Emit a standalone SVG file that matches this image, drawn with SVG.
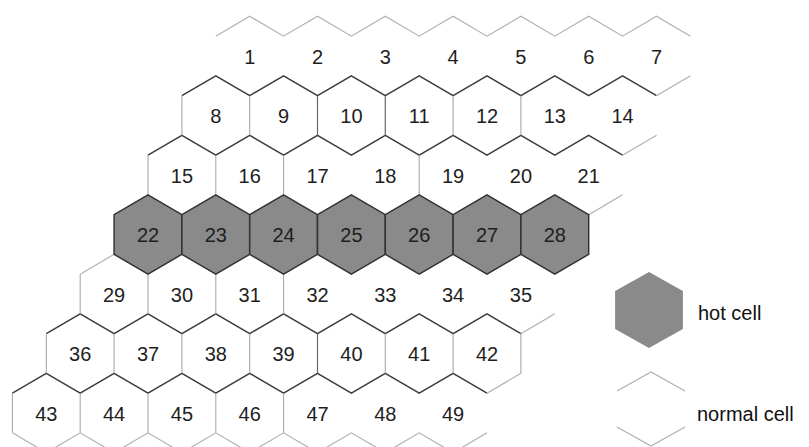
<svg xmlns="http://www.w3.org/2000/svg" xmlns:xlink="http://www.w3.org/1999/xlink" width="809" height="447" viewBox="0 0 809 447">
<style>
  .zz { fill: none; stroke: #3c3c3c; stroke-width: 1.5; stroke-linejoin: miter; }
  .faint { fill: none; stroke: #b0b0b0; stroke-width: 1.2; }
  .vt { stroke: #a8a8a8; stroke-width: 1.1; }
  .vd { stroke: #666; stroke-width: 1.2; }
  .hot { fill: #8a8a8a; stroke: #333; stroke-width: 1.5; }
  .lbl { font-family: "Liberation Sans", Arial, sans-serif; font-size: 20px; fill: #1e1e1e; text-anchor: middle; }
  .leg { font-family: "Liberation Sans", Arial, sans-serif; font-size: 20px; fill: #111; }
</style>
<defs>
  <path id="hex" d="M0,-39.7 L33.9,-19.85 L33.9,19.85 L0,39.7 L-33.9,19.85 L-33.9,-19.85 Z"/>
  <path id="zzTop" d="M0,0 l33.9,-19.85 l33.9,19.85 l33.9,-19.85 l33.9,19.85 l33.9,-19.85 l33.9,19.85 l33.9,-19.85 l33.9,19.85 l33.9,-19.85 l33.9,19.85 l33.9,-19.85 l33.9,19.85 l33.9,-19.85 l33.9,19.85"/>
  <path id="zzBot" d="M0,0 l33.9,19.85 l33.9,-19.85 l33.9,19.85 l33.9,-19.85 l33.9,19.85 l33.9,-19.85 l33.9,19.85 l33.9,-19.85 l33.9,19.85 l33.9,-19.85 l33.9,19.85 l33.9,-19.85 l33.9,19.85 l33.9,-19.85"/>
</defs>
<rect width="809" height="447" fill="#fff"/>

<g id="grid">
  <use xlink:href="#zzTop" href="#zzTop" x="215.8" y="36.15" class="faint"/>
  <use xlink:href="#zzTop" href="#zzTop" x="181.9" y="95.65" class="zz"/>
  <line x1="656.5" y1="95.65" x2="690.4" y2="75.8" class="faint"/>
  <use xlink:href="#zzTop" href="#zzTop" x="148" y="155.15" class="zz"/>
  <line x1="622.6" y1="155.15" x2="656.5" y2="135.3" class="faint"/>
  <line x1="588.7" y1="214.65" x2="622.6" y2="194.8" class="faint"/>
  <line x1="80.2" y1="274.15" x2="114.1" y2="254.3" class="faint"/>
  <use xlink:href="#zzTop" href="#zzTop" x="46.3" y="333.65" class="zz"/>
  <line x1="520.9" y1="333.65" x2="554.8" y2="313.8" class="faint"/>
  <use xlink:href="#zzTop" href="#zzTop" x="12.4" y="393.15" class="zz"/>
  <line x1="487" y1="393.15" x2="520.9" y2="373.3" class="faint"/>
  <use xlink:href="#zzBot" href="#zzBot" x="12.4" y="432.85" class="faint"/>
  <line x1="181.9" y1="95.65" x2="181.9" y2="135.35" class="vt"/>
  <line x1="249.7" y1="95.65" x2="249.7" y2="135.35" class="vt"/>
  <line x1="317.5" y1="95.65" x2="317.5" y2="135.35" class="vd"/>
  <line x1="385.3" y1="95.65" x2="385.3" y2="135.35" class="vd"/>
  <line x1="453.1" y1="95.65" x2="453.1" y2="135.35" class="vt"/>
  <line x1="520.9" y1="95.65" x2="520.9" y2="135.35" class="vt"/>
  <line x1="148" y1="155.15" x2="148" y2="194.85" class="vt"/>
  <line x1="215.8" y1="155.15" x2="215.8" y2="194.85" class="vt"/>
  <line x1="283.6" y1="155.15" x2="283.6" y2="194.85" class="vt"/>
  <line x1="419.2" y1="155.15" x2="419.2" y2="194.85" class="vt"/>
  <line x1="80.2" y1="274.15" x2="80.2" y2="313.85" class="vt"/>
  <line x1="148" y1="274.15" x2="148" y2="313.85" class="vt"/>
  <line x1="215.8" y1="274.15" x2="215.8" y2="313.85" class="vt"/>
  <line x1="283.6" y1="274.15" x2="283.6" y2="313.85" class="vt"/>
  <line x1="46.3" y1="333.65" x2="46.3" y2="373.35" class="vt"/>
  <line x1="114.1" y1="333.65" x2="114.1" y2="373.35" class="vt"/>
  <line x1="181.9" y1="333.65" x2="181.9" y2="373.35" class="vt"/>
  <line x1="249.7" y1="333.65" x2="249.7" y2="373.35" class="vt"/>
  <line x1="317.5" y1="333.65" x2="317.5" y2="373.35" class="vd"/>
  <line x1="385.3" y1="333.65" x2="385.3" y2="373.35" class="vt"/>
  <line x1="453.1" y1="333.65" x2="453.1" y2="373.35" class="vt"/>
  <line x1="520.9" y1="333.65" x2="520.9" y2="373.35" class="vt"/>
  <line x1="12.4" y1="393.15" x2="12.4" y2="432.85" class="vt"/>
  <line x1="80.2" y1="393.15" x2="80.2" y2="432.85" class="vt"/>
  <line x1="148" y1="393.15" x2="148" y2="432.85" class="vt"/>
  <line x1="215.8" y1="393.15" x2="215.8" y2="432.85" class="vt"/>
  <line x1="283.6" y1="393.15" x2="283.6" y2="432.85" class="vt"/>
</g>

<g id="cells">
  <g id="cell-1"><text class="lbl" x="249.7" y="63.5">1</text></g>
  <g id="cell-2"><text class="lbl" x="317.5" y="63.5">2</text></g>
  <g id="cell-3"><text class="lbl" x="385.3" y="63.5">3</text></g>
  <g id="cell-4"><text class="lbl" x="453.1" y="63.5">4</text></g>
  <g id="cell-5"><text class="lbl" x="520.9" y="63.5">5</text></g>
  <g id="cell-6"><text class="lbl" x="588.7" y="63.5">6</text></g>
  <g id="cell-7"><text class="lbl" x="656.5" y="63.5">7</text></g>

  <g id="cell-8"><text class="lbl" x="215.8" y="123">8</text></g>
  <g id="cell-9"><text class="lbl" x="283.6" y="123">9</text></g>
  <g id="cell-10"><text class="lbl" x="351.4" y="123">10</text></g>
  <g id="cell-11"><text class="lbl" x="419.2" y="123">11</text></g>
  <g id="cell-12"><text class="lbl" x="487" y="123">12</text></g>
  <g id="cell-13"><text class="lbl" x="554.8" y="123">13</text></g>
  <g id="cell-14"><text class="lbl" x="622.6" y="123">14</text></g>

  <g id="cell-15"><text class="lbl" x="181.9" y="182.5">15</text></g>
  <g id="cell-16"><text class="lbl" x="249.7" y="182.5">16</text></g>
  <g id="cell-17"><text class="lbl" x="317.5" y="182.5">17</text></g>
  <g id="cell-18"><text class="lbl" x="385.3" y="182.5">18</text></g>
  <g id="cell-19"><text class="lbl" x="453.1" y="182.5">19</text></g>
  <g id="cell-20"><text class="lbl" x="520.9" y="182.5">20</text></g>
  <g id="cell-21"><text class="lbl" x="588.7" y="182.5">21</text></g>

  <g id="cell-22"><use xlink:href="#hex" href="#hex" x="148" y="234.5" class="hot"/><text class="lbl" x="148" y="242">22</text></g>
  <g id="cell-23"><use xlink:href="#hex" href="#hex" x="215.8" y="234.5" class="hot"/><text class="lbl" x="215.8" y="242">23</text></g>
  <g id="cell-24"><use xlink:href="#hex" href="#hex" x="283.6" y="234.5" class="hot"/><text class="lbl" x="283.6" y="242">24</text></g>
  <g id="cell-25"><use xlink:href="#hex" href="#hex" x="351.4" y="234.5" class="hot"/><text class="lbl" x="351.4" y="242">25</text></g>
  <g id="cell-26"><use xlink:href="#hex" href="#hex" x="419.2" y="234.5" class="hot"/><text class="lbl" x="419.2" y="242">26</text></g>
  <g id="cell-27"><use xlink:href="#hex" href="#hex" x="487" y="234.5" class="hot"/><text class="lbl" x="487" y="242">27</text></g>
  <g id="cell-28"><use xlink:href="#hex" href="#hex" x="554.8" y="234.5" class="hot"/><text class="lbl" x="554.8" y="242">28</text></g>

  <g id="cell-29"><text class="lbl" x="114.1" y="301.5">29</text></g>
  <g id="cell-30"><text class="lbl" x="181.9" y="301.5">30</text></g>
  <g id="cell-31"><text class="lbl" x="249.7" y="301.5">31</text></g>
  <g id="cell-32"><text class="lbl" x="317.5" y="301.5">32</text></g>
  <g id="cell-33"><text class="lbl" x="385.3" y="301.5">33</text></g>
  <g id="cell-34"><text class="lbl" x="453.1" y="301.5">34</text></g>
  <g id="cell-35"><text class="lbl" x="520.9" y="301.5">35</text></g>

  <g id="cell-36"><text class="lbl" x="80.2" y="361">36</text></g>
  <g id="cell-37"><text class="lbl" x="148" y="361">37</text></g>
  <g id="cell-38"><text class="lbl" x="215.8" y="361">38</text></g>
  <g id="cell-39"><text class="lbl" x="283.6" y="361">39</text></g>
  <g id="cell-40"><text class="lbl" x="351.4" y="361">40</text></g>
  <g id="cell-41"><text class="lbl" x="419.2" y="361">41</text></g>
  <g id="cell-42"><text class="lbl" x="487" y="361">42</text></g>

  <g id="cell-43"><text class="lbl" x="46.3" y="420.5">43</text></g>
  <g id="cell-44"><text class="lbl" x="114.1" y="420.5">44</text></g>
  <g id="cell-45"><text class="lbl" x="181.9" y="420.5">45</text></g>
  <g id="cell-46"><text class="lbl" x="249.7" y="420.5">46</text></g>
  <g id="cell-47"><text class="lbl" x="317.5" y="420.5">47</text></g>
  <g id="cell-48"><text class="lbl" x="385.3" y="420.5">48</text></g>
  <g id="cell-49"><text class="lbl" x="453.1" y="420.5">49</text></g>
</g>

<g id="legend">
  <g id="legend-hot">
    <use xlink:href="#hex" href="#hex" transform="translate(649,310) scale(1,0.96)" class="hot" style="stroke:none"/>
    <text class="leg" x="698" y="320">hot cell</text>
  </g>
  <g id="legend-normal">
    <polyline points="617,391 651,372 685,391" class="faint"/>
    <polyline points="617,427 651,446 685,427" class="faint"/>
    <text class="leg" x="697" y="421">normal cell</text>
  </g>
</g>
</svg>
